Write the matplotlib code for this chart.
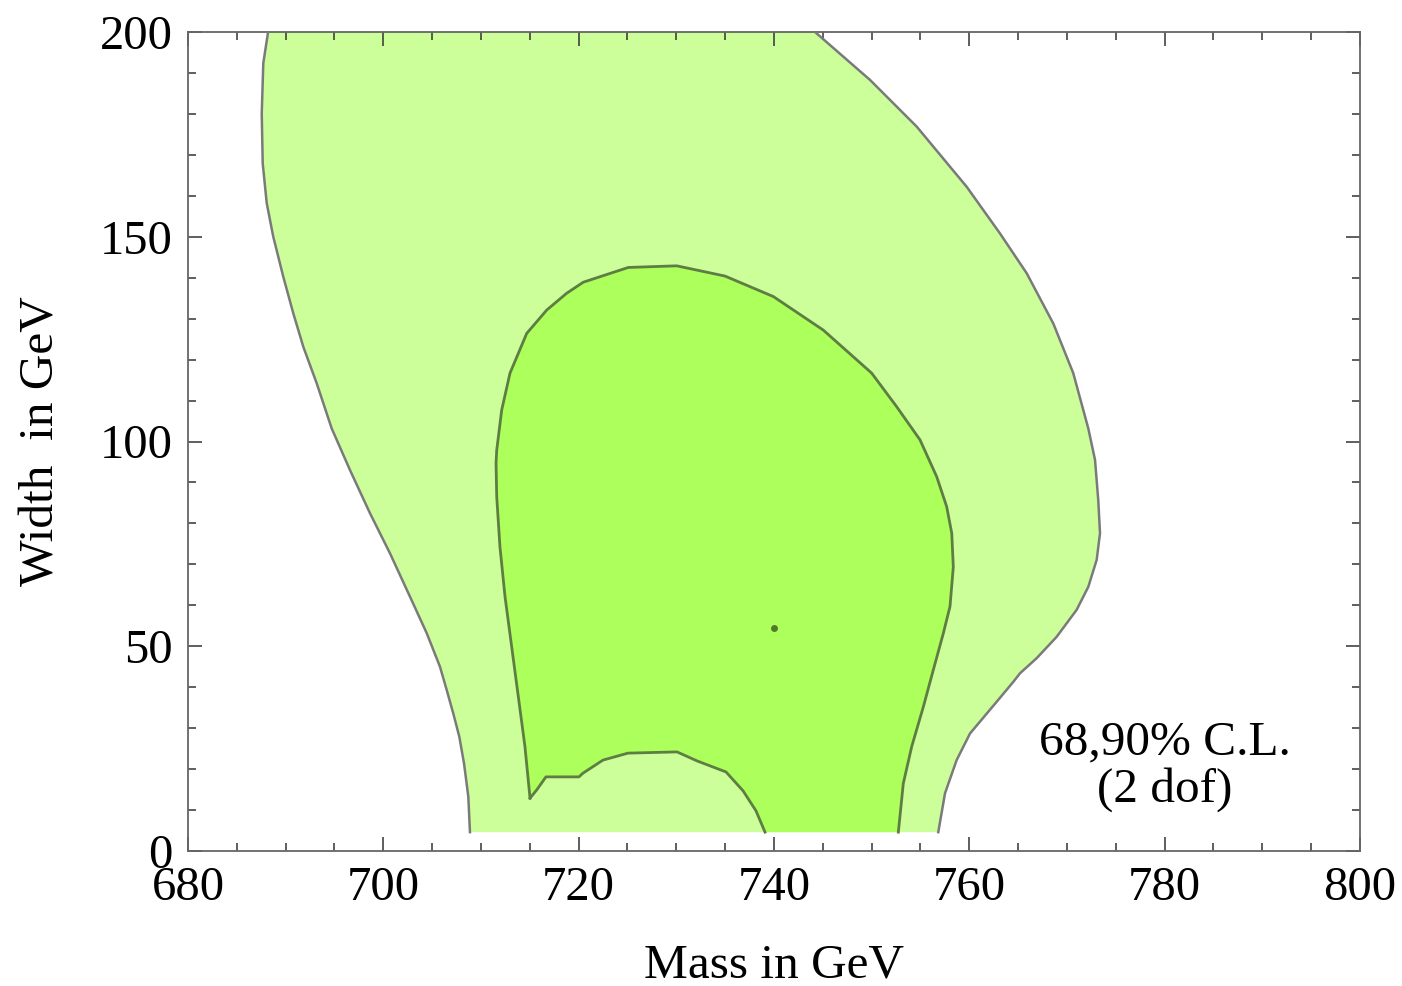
import matplotlib
matplotlib.use("Agg")
import matplotlib.pyplot as plt
from matplotlib.ticker import MultipleLocator

# ---- data (mass in GeV, width in GeV) ----
# 90% C.L. region: left boundary (top -> bottom)
outer_left_mass = [688.2, 687.71, 687.55, 687.65, 688.06, 688.73, 689.76, 690.78, 691.81,
                   693.18, 694.71, 696.59, 698.63, 700.68, 702.73, 704.44, 705.80, 706.49,
                   707.16, 707.78, 708.26, 708.70, 708.87]
outer_left_width = [200.0, 192.4, 180.1, 167.9, 158.2, 150.0, 140.2, 131.3, 123.1,
                    114.2, 103.2, 93.0, 82.5, 72.7, 62.1, 53.2, 45.0, 39.3,
                    33.6, 27.9, 21.4, 13.3, 4.6]
# 90% C.L. region: right boundary (bottom -> top)
outer_right_mass = [756.82, 757.51, 758.70, 760.07, 762.96, 764.50, 765.19, 766.90, 768.94,
                    770.99, 772.18, 773.04, 773.38, 773.20, 772.87, 772.18, 770.64, 768.60,
                    765.87, 763.14, 759.73, 754.61, 749.83, 744.2]
outer_right_width = [4.6, 14.1, 22.2, 28.7, 36.9, 41.3, 43.4, 47.1, 52.3,
                     58.9, 64.5, 71.1, 77.6, 85.7, 95.5, 103.2, 116.7, 128.8,
                     141.1, 150.8, 162.2, 176.9, 188.3, 200.0]

# 68% C.L. region: boundary from bottom-left, over the top, down to bottom-right
inner_mass = [715.02, 714.50, 713.82, 713.14, 712.46, 711.94, 711.61, 711.54, 711.61,
              712.12, 712.97, 714.68, 716.73, 718.77, 720.47, 725.08, 730.04, 734.98,
              739.93, 745.05, 750.00, 752.56, 754.95, 756.66, 757.68, 758.20, 758.36,
              758.02, 757.33, 756.31, 755.29, 754.10, 753.24, 752.73]
inner_width = [12.9, 25.5, 37.7, 49.9, 62.1, 74.3, 86.5, 94.7, 97.9,
               107.7, 116.7, 126.4, 132.1, 136.2, 138.9, 142.5, 142.9, 140.4,
               135.4, 127.2, 116.7, 108.5, 100.4, 91.4, 84.1, 77.6, 69.4,
               59.7, 53.1, 44.2, 35.2, 25.5, 16.5, 4.6]
# 68% C.L. region: lower arch (right -> left), excluded from the region
arch_mass = [739.08, 738.16, 736.83, 735.09, 732.12, 730.07, 725.05, 722.49, 720.44,
             720.03, 716.65, 715.70, 715.02]
arch_width = [4.6, 9.8, 14.7, 19.3, 22.0, 24.2, 23.9, 22.2, 19.0,
              18.1, 18.1, 14.9, 12.9]

best_mass = [740.0]
best_width = [54.5]

annotation = "68,90% C.L.\n(2 dof)"

# ---- figure ----
plt.rcParams['font.family'] = ['Liberation Serif', 'DejaVu Serif']
fig = plt.figure(figsize=(14.02, 9.86), dpi=100)
ax = fig.add_axes([188/1402, 1 - 851/986, (1360-188)/1402, (851-32)/986])

light = '#ccff99'
dark = '#adff5b'
outer_edge = '#7a7a7a'
inner_edge = '#5e7d42'

# outer region polygon
ox = outer_left_mass + outer_right_mass
oy = outer_left_width + outer_right_width
ax.fill(ox, oy, color=light, lw=0, zorder=1)
ax.plot(outer_left_mass, outer_left_width, color=outer_edge, lw=1.8, zorder=3,
        solid_joinstyle='round')
ax.plot(outer_right_mass, outer_right_width, color=outer_edge, lw=1.8, zorder=3,
        solid_joinstyle='round')

# inner region polygon
ix = inner_mass + arch_mass
iy = inner_width + arch_width
ax.fill(ix, iy, color=dark, lw=0, zorder=2)
ax.plot(inner_mass, inner_width, color=inner_edge, lw=2.0, zorder=4, solid_joinstyle='round')
ax.plot(arch_mass, arch_width, color=inner_edge, lw=2.0, zorder=4, solid_joinstyle='round')

ax.plot(best_mass, best_width, marker='o', ms=5, color='#4f7a2a', mec='none', ls='none', zorder=5)

ax.text(780.0, 20.8, annotation, ha='center', va='center', fontsize=35.5, linespacing=1.08)

ax.set_xlim(680, 800)
ax.set_ylim(0, 200)
ax.xaxis.set_major_locator(MultipleLocator(20))
ax.xaxis.set_minor_locator(MultipleLocator(5))
ax.yaxis.set_major_locator(MultipleLocator(50))
ax.yaxis.set_minor_locator(MultipleLocator(10))
ax.tick_params(which='both', direction='in', top=True, right=True, color='#333333', width=1.1)
ax.tick_params(which='major', length=10, labelsize=35)
ax.tick_params(which='minor', length=6)
ax.tick_params(axis='x', which='major', pad=11)
ax.tick_params(axis='y', which='major', pad=11)
for lbl in ax.get_yticklabels():
    lbl.set_verticalalignment('center_baseline')
for s in ax.spines.values():
    s.set_color('#666666')
    s.set_linewidth(1.3)

ax.set_xlabel('Mass in GeV', fontsize=35.5, labelpad=24)
ax.set_ylabel('Width  in GeV', fontsize=35.5, labelpad=26)

fig.savefig('out.png', dpi=100)
